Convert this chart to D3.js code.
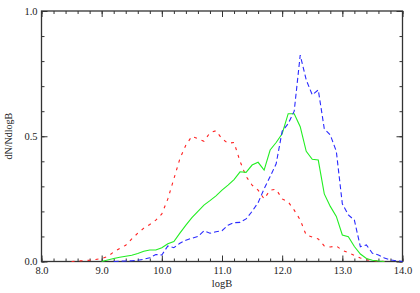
<!DOCTYPE html>
<html>
<head>
<meta charset="utf-8">
<script src="https://cdn.jsdelivr.net/npm/d3@7"></script>
<style>
  body { margin: 0; background: #fff; }
</style>
</head>
<body>
<div id="container"></div>
<script>
// logB sampled every 0.1
const redX = d3.range(85, 138).map((d) => d / 10);
const redY = [0, 0.002, 0.003, 0.005, 0.008, 0.012, 0.02, 0.038, 0.052, 0.065,
  0.09, 0.113, 0.133, 0.148, 0.165, 0.19, 0.25, 0.33, 0.41, 0.465,
  0.5, 0.49, 0.48, 0.514, 0.522, 0.49, 0.472, 0.475, 0.4, 0.34,
  0.305, 0.285, 0.25, 0.285, 0.288, 0.25, 0.238, 0.205, 0.166, 0.105,
  0.098, 0.09, 0.062, 0.058, 0.062, 0.045, 0.035, 0.024, 0.014, 0.007,
  0.004, 0.002, 0];

const greenX = d3.range(90, 138).map((d) => d / 10);
const greenY = [0, 0.006, 0.012, 0.017, 0.021, 0.025, 0.032, 0.041, 0.046, 0.046,
  0.055, 0.071, 0.08, 0.113, 0.145, 0.175, 0.2, 0.225, 0.243, 0.262,
  0.285, 0.305, 0.327, 0.358, 0.356, 0.385, 0.396, 0.365, 0.445, 0.475,
  0.51, 0.59, 0.59, 0.538, 0.44, 0.408, 0.405, 0.27, 0.22, 0.18,
  0.106, 0.099, 0.06, 0.03, 0.012, 0.005, 0.002, 0];

const blueX = d3.range(92, 141).map((d) => d / 10);
const blueY = [0, 0.001, 0.002, 0.003, 0.005, 0.009, 0.015, 0.028, 0.026, 0.062,
  0.055, 0.073, 0.085, 0.093, 0.1, 0.122, 0.113, 0.119, 0.123, 0.145,
  0.155, 0.156, 0.17, 0.2, 0.235, 0.29, 0.339, 0.39, 0.52, 0.55,
  0.6, 0.824, 0.725, 0.665, 0.685, 0.53, 0.505, 0.44, 0.23, 0.186,
  0.165, 0.059, 0.066, 0.033, 0.026, 0.014, 0.006, 0.003, 0];

const xTicks = [8, 9, 10, 11, 12, 13, 14];
const yTicks = [0, 0.5, 1.0];

const serif = 'Liberation Serif, DejaVu Serif, serif';

const margin = { top: 11, right: 17.5, bottom: 31.5, left: 41.5 };
const width = 420 - margin.left - margin.right;
const height = 293 - margin.top - margin.bottom;

const x = d3.scaleLinear().domain([8, 14]).range([0, width]);
const y = d3.scaleLinear().domain([0, 1]).range([height, 0]);

const svg = d3.select('#container').append('svg')
  .attr('width', 420)
  .attr('height', 293)
  .append('g')
  .attr('transform', `translate(${margin.left}, ${margin.top})`);

const xMinor = d3.range(80, 141, 2).map((d) => d / 10);
const yMinor = d3.range(0, 11).map((d) => d / 10);

function styleAxis(g) {
  g.attr('font-family', serif).attr('font-size', 10.5);
  g.select('.domain').remove();
  g.selectAll('line').attr('stroke', '#333').attr('stroke-width', 1);
  g.selectAll('text').attr('fill', '#222');
}

// bottom
svg.append('g').attr('transform', `translate(0, ${height})`)
  .call(d3.axisBottom(x).tickValues(xMinor).tickSize(-3).tickFormat(''))
  .call(styleAxis);
svg.append('g').attr('transform', `translate(0, ${height})`)
  .call(d3.axisBottom(x).tickValues(xTicks).tickSizeInner(-6).tickSizeOuter(0)
    .tickPadding(5).tickFormat(d3.format('.1f')))
  .call(styleAxis);
// top
svg.append('g')
  .call(d3.axisTop(x).tickValues(xMinor).tickSize(-3).tickFormat(''))
  .call(styleAxis);
svg.append('g')
  .call(d3.axisTop(x).tickValues(xTicks).tickSize(-6).tickFormat(''))
  .call(styleAxis);
// left
svg.append('g')
  .call(d3.axisLeft(y).tickValues(yMinor).tickSize(-3).tickFormat(''))
  .call(styleAxis);
svg.append('g')
  .call(d3.axisLeft(y).tickValues(yTicks).tickSizeInner(-6).tickSizeOuter(0)
    .tickPadding(4).tickFormat(d3.format('.1f')))
  .call(styleAxis);
// right
svg.append('g').attr('transform', `translate(${width}, 0)`)
  .call(d3.axisRight(y).tickValues(yMinor).tickSize(-3).tickFormat(''))
  .call(styleAxis);
svg.append('g').attr('transform', `translate(${width}, 0)`)
  .call(d3.axisRight(y).tickValues(yTicks).tickSize(-6).tickFormat(''))
  .call(styleAxis);

svg.append('rect')
  .attr('width', width)
  .attr('height', height)
  .attr('fill', 'none')
  .attr('stroke', '#333')
  .attr('stroke-width', 1.3);

const line = d3.line()
  .x((d) => x(d[0]))
  .y((d) => y(d[1]));

const series = [
  { xs: redX, ys: redY, color: '#ff2020', dash: '3,5' },
  { xs: greenX, ys: greenY, color: '#22ee22', dash: null },
  { xs: blueX, ys: blueY, color: '#2a2aff', dash: '5,3' }
];

series.forEach((s) => {
  svg.append('path')
    .datum(s.xs.map((v, i) => [v, s.ys[i]]))
    .attr('d', line)
    .attr('fill', 'none')
    .attr('stroke', s.color)
    .attr('stroke-width', 1.1)
    .attr('stroke-dasharray', s.dash);
});

svg.append('text')
  .attr('x', width / 2)
  .attr('y', height + 25)
  .attr('text-anchor', 'middle')
  .attr('font-family', serif)
  .attr('font-size', 10.5)
  .attr('fill', '#222')
  .text('logB');

svg.append('text')
  .attr('transform', 'rotate(-90)')
  .attr('x', 0 - y(0.5))
  .attr('y', -30)
  .attr('text-anchor', 'middle')
  .attr('font-family', serif)
  .attr('font-size', 10)
  .attr('fill', '#222')
  .text('dN/NdlogB');
</script>
</body>
</html>
